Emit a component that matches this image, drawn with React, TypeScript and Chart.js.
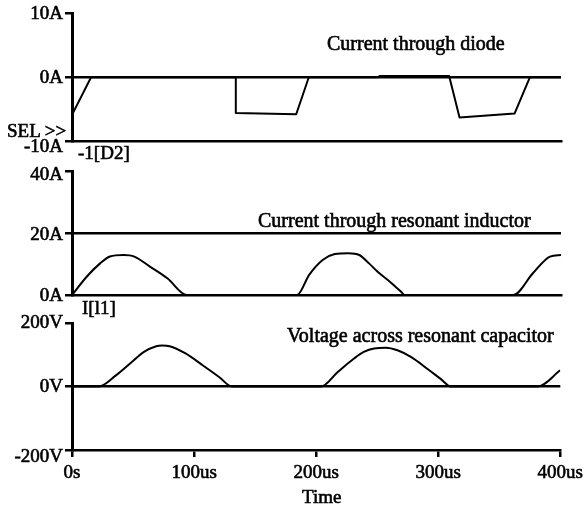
import React, { useEffect, useRef } from 'react';
import { Chart, registerables } from 'chart.js';

Chart.register(...registerables);

const FONT = "'Liberation Serif', 'Times New Roman', serif";

// Time axis (microseconds)
const timeTicks = [0, 100, 200, 300, 400];
const timeTickLabels = ['0s', '100us', '200us', '300us', '400us'];

// Current through diode  -1*I(D2)  [A]
const diodeTime = [0, 15.6, 134, 134, 183.4, 193.7, 250, 252, 308.5, 317, 362, 374.6, 400];
const diodeCurrent = [-5.9, 0, 0, -5.6, -5.8, 0, 0, 0.2, 0.2, -6.3, -5.7, 0, 0];
const diodeTickLabels = ['-10A', '0A', '10A'];

// Current through resonant inductor I(L1) [A]
const inductorTime = [0, 12, 23, 31, 42, 51, 64, 78, 94, 184, 194, 205, 215, 226, 235, 243, 250, 260, 269, 272, 361, 377, 391, 400];
const inductorCurrent = [0, 5.9, 10.2, 12.4, 12.9, 12.4, 9.1, 5.4, 0, 0, 6.5, 11.3, 13.2, 13.5, 12.9, 10.2, 7.5, 4.3, 1.1, 0, 0, 7, 12.4, 12.9];
const inductorTickLabels = ['0A', '20A', '40A'];

// Voltage across resonant capacitor [V]
const capTime = [0, 22, 36, 49, 59, 69, 74, 80, 93, 107, 120.5, 131, 204, 217.5, 231, 239, 247.5, 257, 266.6, 277.6, 291, 302, 310.4, 381.4, 400];
const capVoltage = [0, 0, 35, 77, 109, 127, 129, 127, 104, 67, 30, 0, 0, 45, 88, 109, 120, 122, 114, 93, 56, 24, 0, 0, 51];
const capTickLabels = ['-200V', '0V', '200V'];

type PanelProps = {
  top: number;
  height: number;
  time: number[];
  values: number[];
  yMin: number;
  yMax: number;
  yStep: number;
  yLabels: string[];
  labelShift: number[];
  padTop: number;
  padBottom: number;
  showX: boolean;
  smooth: boolean;
};

function Panel(p: PanelProps) {
  const ref = useRef<HTMLCanvasElement | null>(null);
  useEffect(() => {
    if (!ref.current) return;
    const data = p.time.map((t, i) => ({ x: t, y: p.values[i] }));
    const shiftPlugin = {
      id: 'tickLabelShift',
      beforeDraw(chart: any) {
        const s = chart.scales.y;
        const items = s.getLabelItems();
        items.forEach((it: any, i: number) => {
          if (!it.__shifted) {
            it.options.translation[1] += p.labelShift[i] || 0;
            it.__shifted = true;
          }
        });
      },
    };
    const chart = new Chart(ref.current, {
      type: 'line',
      data: {
        datasets: [
          {
            data,
            borderColor: '#000',
            borderWidth: 2,
            pointRadius: 0,
            fill: false,
            cubicInterpolationMode: p.smooth ? 'monotone' : 'default',
            tension: 0,
            borderJoinStyle: 'round',
          },
        ],
      },
      options: {
        animation: false,
        responsive: false,
        events: [],
        layout: { padding: { top: p.padTop, bottom: p.padBottom, left: 0, right: 27 } },
        plugins: { legend: { display: false }, tooltip: { enabled: false } },
        scales: {
          x: {
            type: 'linear',
            min: 0,
            max: 400,
            afterBuildTicks: (s: any) => {
              s.ticks = timeTicks.map((v) => ({ value: v }));
            },
            afterFit: (s: any) => {
              s.height = p.showX ? 60 : 0;
            },
            ticks: {
              display: p.showX,
              autoSkip: false,
              maxRotation: 0,
              padding: 5,
              color: '#000',
              textStrokeColor: '#000',
              textStrokeWidth: 0.6,
              font: { family: FONT, size: 19 },
              callback: (_v: any, i: number) => timeTickLabels[i],
            },
            grid: {
              display: p.showX,
              drawOnChartArea: false,
              tickLength: 7,
              color: '#000',
              lineWidth: 2.5,
            },
            border: { display: true, color: '#000', width: 2.5 },
          },
          y: {
            type: 'linear',
            min: p.yMin,
            max: p.yMax,
            ticks: {
              stepSize: p.yStep,
              padding: 2,
              color: '#000',
              textStrokeColor: '#000',
              textStrokeWidth: 0.6,
              font: { family: FONT, size: 19 },
              callback: (_v: any, i: number) => p.yLabels[i],
            },
            afterFit: (s: any) => {
              s.width = 72;
            },
            grid: {
              drawOnChartArea: true,
              tickLength: 7,
              lineWidth: 2.5,
              tickColor: '#000',
              tickWidth: 2.5,
              color: (c: any) => (c.index === 1 ? '#000' : 'rgba(0,0,0,0)'),
            },
            border: { display: true, color: '#000', width: 3 },
          },
        },
      },
      plugins: [shiftPlugin],
    } as any);
    return () => chart.destroy();
  }, []);
  return (
    <canvas
      ref={ref}
      width={588}
      height={p.height}
      style={{ position: 'absolute', left: 0, top: p.top, width: 588, height: p.height, display: 'block' }}
    />
  );
}

function Label(props: { text: string; left: number; top: number; size: number }) {
  return (
    <div
      style={{
        position: 'absolute',
        left: props.left,
        top: props.top,
        fontFamily: FONT,
        fontSize: props.size,
        lineHeight: props.size + 'px',
        color: '#000',
        whiteSpace: 'nowrap',
        WebkitTextStroke: '0.6px #000',
      }}
    >
      {props.text}
    </div>
  );
}

export default function App() {
  return (
    <div style={{ position: 'absolute', left: 0, top: 0, width: 588, height: 510, background: '#fff', overflow: 'hidden' }}>
      <Panel top={0} height={165} time={diodeTime} values={diodeCurrent} yMin={-10} yMax={10} yStep={10}
        yLabels={diodeTickLabels} labelShift={[6, 1, 1]} padTop={13} padBottom={24} showX={false} smooth={false} />
      <Panel top={150} height={165} time={inductorTime} values={inductorCurrent} yMin={0} yMax={40} yStep={20}
        yLabels={inductorTickLabels} labelShift={[1, 2, 4]} padTop={21} padBottom={20} showX={false} smooth={true} />
      <Panel top={300} height={210} time={capTime} values={capVoltage} yMin={-200} yMax={200} yStep={200}
        yLabels={capTickLabels} labelShift={[7, 1, 0]} padTop={23} padBottom={0} showX={true} smooth={true} />
      <Label text="Current through diode" left={327} top={32.5} size={20} />
      <Label text="Current through resonant inductor" left={258} top={209.5} size={20} />
      <Label text="Voltage across resonant capacitor" left={287} top={324.5} size={20} />
      <Label text="SEL >>" left={7} top={120.7} size={19} />
      <Label text="-1[D2]" left={78} top={142.7} size={19} />
      <Label text="I[l1]" left={82} top={297.7} size={19} />
      <Label text="Time" left={302} top={486.7} size={19} />
    </div>
  );
}
